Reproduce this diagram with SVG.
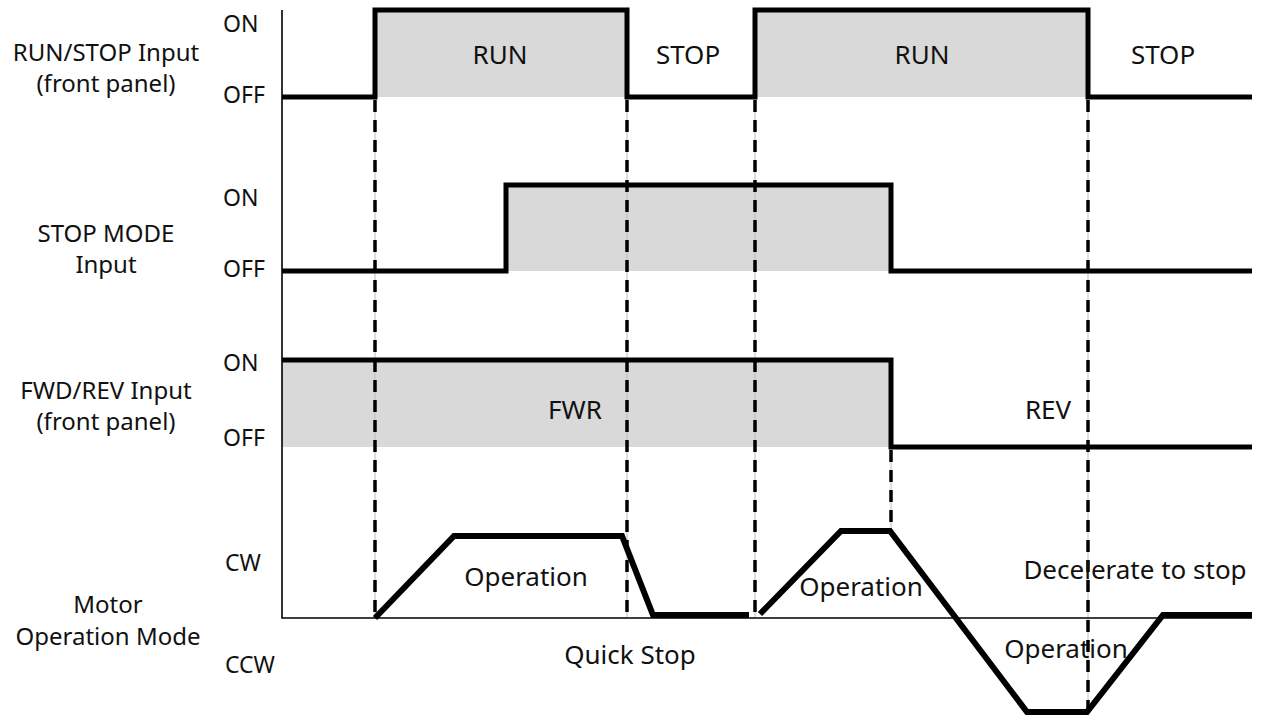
<svg xmlns="http://www.w3.org/2000/svg" width="1262" height="715" viewBox="0 0 1262 715">
<style>
text{font-family:"Noto Sans","Liberation Sans",sans-serif;fill:#111}
.lbl{font-size:24px;text-anchor:middle}
.lv{font-size:23px}
.sig{font-size:26px;text-anchor:middle}
.fill{fill:#d9d9d9}
.wave{fill:none;stroke:#000;stroke-width:5;stroke-linejoin:miter;stroke-linecap:butt}
.motor{fill:none;stroke:#000;stroke-width:6;stroke-linejoin:miter}
.axis{fill:none;stroke:#000;stroke-width:1.6}
.guide{stroke:#bbb;stroke-width:1}
.dash{stroke:#000;stroke-width:3.5;stroke-dasharray:12 8}
</style>
<rect width="1262" height="715" fill="#fff"/>
<g id="fills">
<rect class="fill" x="375" y="10" width="252" height="87"/>
<rect class="fill" x="755" y="10" width="333" height="87"/>
<rect class="fill" x="506" y="185" width="385" height="86"/>
<rect class="fill" x="282" y="360" width="609" height="87"/>
</g>
<g id="connectors">
<line class="guide" x1="375" y1="97" x2="375" y2="618"/>
<line class="dash" x1="375" y1="100" x2="375" y2="618"/>
<line class="guide" x1="627" y1="97" x2="627" y2="618"/>
<line class="dash" x1="627" y1="100" x2="627" y2="618"/>
<line class="guide" x1="755" y1="97" x2="755" y2="618"/>
<line class="dash" x1="755" y1="100" x2="755" y2="618"/>
<line class="guide" x1="891" y1="447" x2="891" y2="531"/>
<line class="dash" x1="891" y1="450" x2="891" y2="531"/>
<line class="guide" x1="1088" y1="97" x2="1088" y2="712"/>
<line class="dash" x1="1088" y1="100" x2="1088" y2="712"/>
</g>
<g id="axes">
<polyline class="axis" points="282,10 282,618 1252,618"/>
</g>
<g id="row-runstop">
<text class="lbl" x="106" y="61">RUN/STOP Input</text>
<text class="lbl" x="106" y="92">(front panel)</text>
<text class="lv" x="223" y="32">ON</text>
<text class="lv" x="223" y="103">OFF</text>
<polyline class="wave" points="282,97 375,97 375,10 627,10 627,97 755,97 755,10 1088,10 1088,97 1252,97"/>
<text class="sig" x="500" y="64">RUN</text>
<text class="sig" x="688" y="64">STOP</text>
<text class="sig" x="922" y="64">RUN</text>
<text class="sig" x="1163" y="64">STOP</text>
</g>
<g id="row-stopmode">
<text class="lbl" x="106" y="242">STOP MODE</text>
<text class="lbl" x="106" y="273">Input</text>
<text class="lv" x="223" y="206">ON</text>
<text class="lv" x="223" y="277">OFF</text>
<polyline class="wave" points="282,271 506,271 506,185 891,185 891,271 1252,271"/>
</g>
<g id="row-fwdrev">
<text class="lbl" x="106" y="399">FWD/REV Input</text>
<text class="lbl" x="106" y="430">(front panel)</text>
<text class="lv" x="223" y="371">ON</text>
<text class="lv" x="223" y="446">OFF</text>
<polyline class="wave" points="282,360 891,360 891,447 1252,447"/>
<text class="sig" x="575" y="419">FWR</text>
<text class="sig" x="1048" y="419">REV</text>
</g>
<g id="row-motor">
<text class="lbl" x="108" y="613">Motor</text>
<text class="lbl" x="108" y="645">Operation Mode</text>
<text class="lv" x="225" y="571">CW</text>
<text class="lv" x="225" y="673">CCW</text>
<polyline class="motor" points="375,618 454,536 622,536 653,615 749,615"/>
<polyline class="motor" points="760,614 841,531 890,531 1027,712 1087,712 1163,615 1252,615"/>
<text class="sig" x="526" y="586">Operation</text>
<text class="sig" x="630" y="664">Quick Stop</text>
<text class="sig" x="861" y="596">Operation</text>
<text class="sig" x="1135" y="579">Decelerate to stop</text>
<text class="sig" x="1066" y="658">Operation</text>
</g>
</svg>
